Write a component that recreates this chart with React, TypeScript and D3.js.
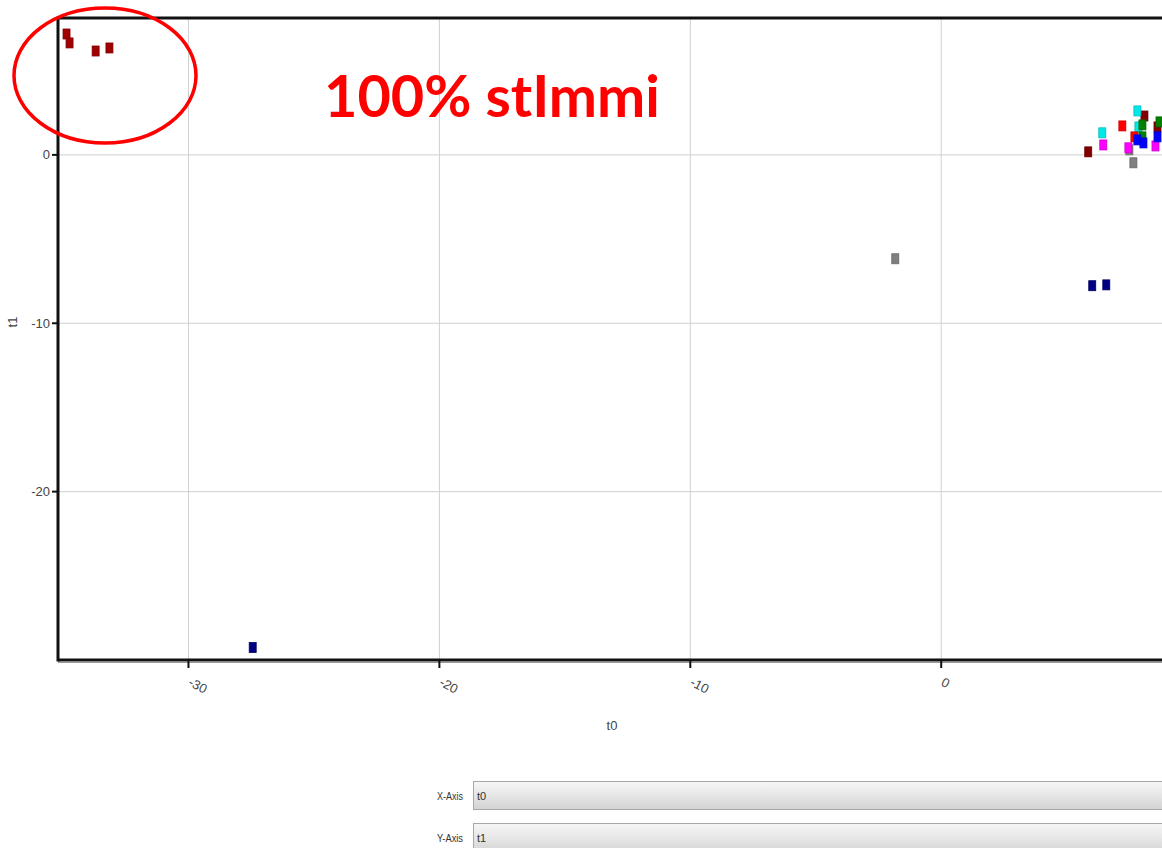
import React from "react";
import * as d3 from "d3";

const xTicks = [-30, -20, -10, 0];
const yTicks = [0, -10, -20];

const seriesColors = ["#a00000", "#000080", "#808080", "#800000", "#00e8e8", "#ff00ff", "#ff0000", "#008000", "#0000ff"];
const seriesX = [
  [-34.86, -34.74, -33.7, -33.15],
  [-27.44, 6.02, 6.58],
  [-1.83, 7.5, 7.66],
  [5.86, 8.1, 8.62],
  [6.42, 7.82, 7.86],
  [6.46, 7.46, 8.54],
  [7.22, 7.7],
  [8.02, 8.02, 8.7],
  [7.82, 8.06, 8.62],
];
const seriesY = [
  [7.18, 6.65, 6.17, 6.35],
  [-29.26, -7.77, -7.72],
  [-6.17, 0.3, -0.47],
  [0.18, 2.31, 1.66],
  [1.31, 2.61, 1.66],
  [0.59, 0.42, 0.53],
  [1.72, 1.07],
  [1.78, 1.07, 1.96],
  [0.89, 0.71, 1.07],
];

const xLabel = "t0";
const yLabel = "t1";
const title = "100% stImmi";

export default function App() {
  const W = 1162, H = 848;
  const left = 58, top = 18, bottom = 660, right = 1162;
  const x = d3.scaleLinear().domain([-35.2, 8.8]).range([left, right]);
  const y = d3.scaleLinear().domain([-30, 8.13]).range([bottom, top]);
  const axisColor = "#111";
  const tickText = "#444";
  const font = "'Liberation Sans', Arial, sans-serif";

  return (
    <svg width={W} height={H} style={{ position: "absolute", left: 0, top: 0, background: "#fff" }} fontFamily={font}>
      <defs>
        <linearGradient id="combo" x1="0" y1="0" x2="0" y2="1">
          <stop offset="0" stopColor="#f6f6f6" />
          <stop offset="0.5" stopColor="#e6e6e6" />
          <stop offset="1" stopColor="#d2d2d2" />
        </linearGradient>
      </defs>
      {/* grid */}
      {xTicks.map((t) => (
        <line key={"gx" + t} x1={x(t)} x2={x(t)} y1={top} y2={bottom} stroke="#d0d0d0" strokeWidth={1} />
      ))}
      {yTicks.map((t) => (
        <line key={"gy" + t} x1={left} x2={right} y1={y(t)} y2={y(t)} stroke="#d0d0d0" strokeWidth={1} />
      ))}
      {/* title */}
      <text x={324} y={117} fontSize={58} fontWeight="bold" fill="#ff0000" fontFamily="Lato, 'Liberation Sans', sans-serif" textLength={336} lengthAdjust="spacingAndGlyphs">
        {title}
      </text>
      {/* points */}
      {seriesX.map((xs, si) =>
        xs.map((v, i) => (
          <rect
            key={si + "-" + i}
            x={x(v) - 3.5}
            y={y(seriesY[si][i]) - 5}
            width={7}
            height={10}
            fill={seriesColors[si]}
            stroke={d3.color(seriesColors[si])!.darker(0.6).toString()}
            strokeWidth={0.8}
          />
        ))
      )}
      {/* axes */}
      <line x1={left} x2={right} y1={top} y2={top} stroke={axisColor} strokeWidth={3} />
      <line x1={left} x2={left} y1={top - 1.5} y2={bottom + 1.5} stroke={axisColor} strokeWidth={3} />
      <line x1={left} x2={right} y1={bottom} y2={bottom} stroke={axisColor} strokeWidth={3} />
      <line x1={left} x2={right} y1={bottom + 2.5} y2={bottom + 2.5} stroke="#999" strokeWidth={1} />
      {xTicks.map((t) => (
        <g key={"xt" + t}>
          <line x1={x(t)} x2={x(t)} y1={bottom} y2={bottom + 8} stroke={axisColor} strokeWidth={2} />
          <text transform={`translate(${x(t) - 1},${bottom + 25}) rotate(28)`} fontSize={13} fill={tickText}>
            {t}
          </text>
        </g>
      ))}
      {yTicks.map((t) => (
        <g key={"yt" + t}>
          <line x1={left - 6} x2={left} y1={y(t)} y2={y(t)} stroke={axisColor} strokeWidth={2} />
          <text x={left - 8} y={y(t) + 4.5} fontSize={13} fill={tickText} textAnchor="end">
            {t}
          </text>
        </g>
      ))}
      <text x={612} y={730} fontSize={13} fill={tickText} textAnchor="middle">{xLabel}</text>
      <text transform="translate(17,322) rotate(-90)" fontSize={13} fill={tickText} textAnchor="middle">{yLabel}</text>
      {/* red ellipse */}
      <ellipse cx={105} cy={75.5} rx={91} ry={67.5} fill="none" stroke="#ff0000" strokeWidth={3.5} />
      {/* bottom controls */}
      <text x={463} y={800} fontSize={11} fill="#333" textAnchor="end" textLength={26} lengthAdjust="spacingAndGlyphs">X-Axis</text>
      <rect x={473.5} y={781.5} width={720} height={28} fill="url(#combo)" stroke="#a8a8a8" />
      <text x={477} y={800} fontSize={11} fill="#333">{xLabel}</text>
      <text x={463} y={842} fontSize={11} fill="#333" textAnchor="end" textLength={26} lengthAdjust="spacingAndGlyphs">Y-Axis</text>
      <rect x={473.5} y={823.5} width={720} height={30} fill="url(#combo)" stroke="#a8a8a8" />
      <text x={477} y={842} fontSize={11} fill="#333">{yLabel}</text>
    </svg>
  );
}
